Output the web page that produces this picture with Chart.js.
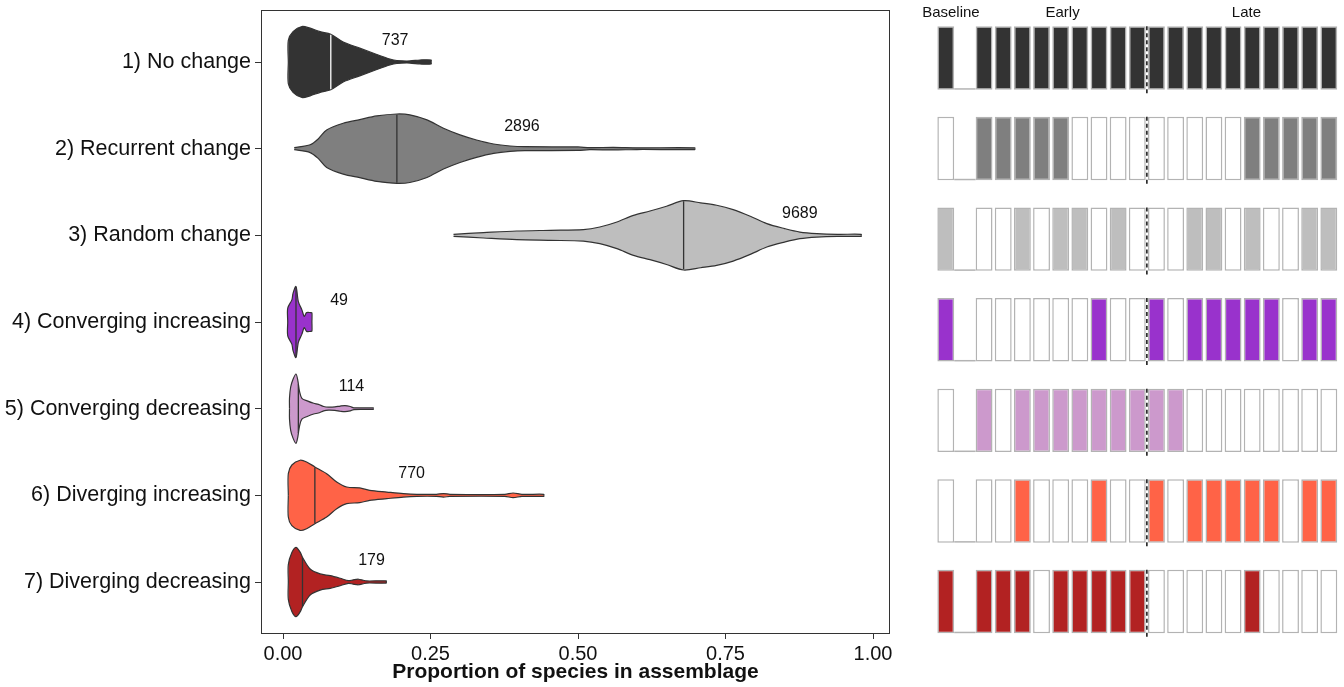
<!DOCTYPE html>
<html>
<head>
<meta charset="utf-8">
<script src="https://cdn.jsdelivr.net/npm/chart.js@4.4.1/dist/chart.umd.min.js"></script>
<style>
  html, body { margin: 0; padding: 0; background: #fff; }
  #wrap { position: relative; width: 1344px; height: 687px; }
  #violin { position: absolute; left: 0; top: 0; }
  #grid { position: absolute; left: 900px; top: 0; }
</style>
</head>
<body>
<div id="wrap">
  <canvas id="violin" width="900" height="687"></canvas>
  <canvas id="grid" width="444" height="687"></canvas>
</div>
<script>
const groups = ['1) No change', '2) Recurrent change', '3) Random change', '4) Converging increasing',
                '5) Converging decreasing', '6) Diverging increasing', '7) Diverging decreasing'];
const counts = [737, 2896, 9689, 49, 114, 770, 179];
const countX = [0.19, 0.405, 0.876, 0.095, 0.116, 0.218, 0.15];
const medians = [0.081, 0.193, 0.679, 0.022, 0.026, 0.054, 0.033];
const colours = ['#333333', '#7f7f7f', '#bebebe', '#9932cc', '#cc99cc', '#ff6347', '#b22222'];
const xTicks = [0, 0.25, 0.5, 0.75, 1];

// violin outlines: proportion of species, half width (in rows)
const noChangeX = [0.009, 0.017, 0.032, 0.046, 0.063, 0.081, 0.102, 0.13, 0.159, 0.181, 0.193, 0.215, 0.232, 0.251];
const noChangeW = [0.25, 0.35, 0.41, 0.39, 0.35, 0.32, 0.23, 0.16, 0.087, 0.035, 0.017, 0.012, 0.023, 0.023];
const recurrentX = [0.019, 0.046, 0.06, 0.074, 0.102, 0.13, 0.159, 0.193, 0.215, 0.244, 0.272, 0.30, 0.328, 0.357, 0.385, 0.41, 0.50, 0.52, 0.56, 0.60, 0.698];
const recurrentW = [0.012, 0.045, 0.115, 0.216, 0.293, 0.335, 0.378, 0.40, 0.39, 0.332, 0.235, 0.159, 0.10, 0.054, 0.031, 0.023, 0.02, 0.012, 0.015, 0.01, 0.01];
const randomX = [0.289, 0.34, 0.396, 0.453, 0.509, 0.537, 0.566, 0.594, 0.622, 0.65, 0.679, 0.708, 0.735, 0.763, 0.792, 0.82, 0.85, 0.876, 0.905, 0.94, 0.98];
const randomW = [0.012, 0.031, 0.05, 0.058, 0.066, 0.096, 0.154, 0.231, 0.281, 0.336, 0.40, 0.374, 0.347, 0.297, 0.22, 0.135, 0.078, 0.038, 0.02, 0.012, 0.012];
const convIncX = [0.008, 0.015, 0.017, 0.022, 0.026, 0.032, 0.036, 0.04, 0.047, 0.049];
const convIncW = [0.16, 0.255, 0.33, 0.41, 0.235, 0.14, 0.065, 0.108, 0.108, 0.105];
const convDecX = [0.011, 0.013, 0.017, 0.022, 0.025, 0.028, 0.032, 0.041, 0.052, 0.06, 0.069, 0.077, 0.088, 0.097, 0.105, 0.114, 0.12, 0.153];
const convDecW = [0.12, 0.25, 0.34, 0.40, 0.33, 0.2, 0.12, 0.09, 0.062, 0.05, 0.025, 0.017, 0.02, 0.03, 0.035, 0.025, 0.01, 0.008];
const divIncX = [0.009, 0.015, 0.029, 0.04, 0.054, 0.074, 0.091, 0.108, 0.13, 0.147, 0.176, 0.204, 0.227, 0.26, 0.272, 0.283, 0.376, 0.39, 0.405, 0.442];
const divIncW = [0.25, 0.35, 0.405, 0.385, 0.328, 0.25, 0.154, 0.096, 0.085, 0.058, 0.038, 0.02, 0.012, 0.012, 0.02, 0.012, 0.012, 0.027, 0.012, 0.012];
const divDecX = [0.009, 0.015, 0.022, 0.029, 0.033, 0.046, 0.063, 0.08, 0.097, 0.111, 0.119, 0.128, 0.136, 0.142, 0.175];
const divDecW = [0.2, 0.34, 0.40, 0.345, 0.286, 0.15, 0.093, 0.073, 0.043, 0.015, 0.025, 0.032, 0.02, 0.012, 0.012];

const violinX = [noChangeX, recurrentX, randomX, convIncX, convDecX, divIncX, divDecX];
const violinW = [noChangeW, recurrentW, randomW, convIncW, convDecW, divIncW, divDecW];

// right panel: which phases show the pattern (1 = filled)
const baselineOn = [1, 0, 1, 1, 0, 0, 1];
const earlyOn = [
  [1, 1, 1, 1, 1, 1, 1, 1, 1],
  [1, 1, 1, 1, 1, 0, 0, 0, 0],
  [0, 0, 1, 0, 1, 1, 0, 1, 0],
  [0, 0, 0, 0, 0, 0, 1, 0, 0],
  [1, 0, 1, 1, 1, 1, 1, 1, 1],
  [0, 0, 1, 0, 0, 0, 1, 0, 0],
  [1, 1, 1, 0, 1, 1, 1, 1, 1]
];
const lateOn = [
  [1, 1, 1, 1, 1, 1, 1, 1, 1, 1],
  [0, 0, 0, 0, 0, 1, 1, 1, 1, 1],
  [0, 0, 1, 1, 0, 1, 0, 0, 1, 1],
  [1, 0, 1, 1, 1, 1, 1, 0, 1, 1],
  [1, 1, 0, 0, 0, 0, 0, 0, 0, 0],
  [1, 0, 1, 1, 1, 1, 1, 0, 1, 1],
  [0, 0, 0, 0, 0, 1, 0, 0, 0, 0]
];

const FONT = "'Liberation Sans', Arial, sans-serif";
Chart.defaults.font.family = FONT;
Chart.defaults.color = '#111';

function halfWidthAt(xs, ws, v) {
  for (let k = 0; k < xs.length - 1; k++) {
    if (v <= xs[k + 1]) {
      const t = (v - xs[k]) / (xs[k + 1] - xs[k]);
      return ws[k] + t * (ws[k + 1] - ws[k]);
    }
  }
  return ws[ws.length - 1];
}

// ---- violins ----
const violinSets = [];
violinX.forEach((xs, i) => {
  const row = i + 1;
  const ws = violinW[i];
  const pts = xs.map((v, k) => ({ v: v, w: ws[k] }));
  if (ws[0] > 0.03) pts.unshift({ v: xs[0], w: 0 });
  pts.push({ v: xs[xs.length - 1], w: 0 });
  violinSets.push({
    data: pts.map(p => ({ x: p.v, y: row - p.w })),
    borderColor: '#333', borderWidth: 1.2, fill: false, order: 1
  });
  violinSets.push({
    data: pts.map(p => ({ x: p.v, y: row + p.w })),
    borderColor: '#333', borderWidth: 1.2, backgroundColor: colours[i], fill: '-1', order: 1
  });
});
medians.forEach((m, i) => {
  const h = halfWidthAt(violinX[i], violinW[i], m) * 0.98;
  violinSets.push({
    data: [{ x: m, y: i + 1 - h }, { x: m, y: i + 1 + h }],
    borderColor: i === 0 ? '#ffffff' : '#333', borderWidth: 1.3, tension: 0, fill: false, order: 0
  });
});

const frameAndCounts = {
  id: 'frameAndCounts',
  afterDatasetsDraw(chart) {
    const { ctx, chartArea: a, scales: { x, y } } = chart;
    ctx.save();
    ctx.strokeStyle = '#333';
    ctx.lineWidth = 1;
    ctx.strokeRect(a.left + 0.5, a.top + 0.5, a.right - a.left - 1, a.bottom - a.top - 1);
    ctx.fillStyle = '#111';
    ctx.font = '16px ' + FONT;
    ctx.textAlign = 'center';
    ctx.textBaseline = 'middle';
    counts.forEach((n, i) => {
      ctx.fillText(String(n), x.getPixelForValue(countX[i]), y.getPixelForValue(i + 1 - 0.25));
    });
    ctx.restore();
  }
};

new Chart(document.getElementById('violin'), {
  type: 'scatter',
  data: { datasets: violinSets },
  options: {
    responsive: false,
    animation: false,
    layout: { padding: { top: 10, right: 10, left: 0, bottom: 0 } },
    elements: { point: { radius: 0, hoverRadius: 0 }, line: { tension: 0.3 } },
    datasets: { scatter: { showLine: true } },
    plugins: { legend: { display: false }, tooltip: { enabled: false } },
    scales: {
      x: {
        type: 'linear', min: -0.0373, max: 1.0288,
        afterBuildTicks: s => { s.ticks = xTicks.map(v => ({ value: v })); },
        afterFit: s => { s.height = 53; s.paddingLeft = 0; s.paddingRight = 0; },
        ticks: { callback: v => Number(v).toFixed(2), font: { size: 20 }, padding: 3, maxRotation: 0, autoSkip: false },
        grid: { drawOnChartArea: false, tickLength: 5, color: '#333' },
        border: { display: false },
        title: {
          display: true, text: 'Proportion of species in assemblage',
          font: { size: 21, weight: 'bold' }, padding: { top: 0, bottom: 2 }
        }
      },
      y: {
        type: 'linear', min: 0.4, max: 7.6, reverse: true,
        afterBuildTicks: s => { s.ticks = groups.map((g, i) => ({ value: i + 1 })); },
        afterFit: s => { s.width = 261; s.paddingTop = 0; s.paddingBottom = 0; },
        ticks: { callback: v => groups[v - 1], font: { size: 21.5 }, padding: 4, autoSkip: false },
        grid: { drawOnChartArea: false, tickLength: 6, color: '#333' },
        border: { display: false }
      }
    }
  },
  plugins: [frameAndCounts]
});

// ---- phase grid ----
const cols = ['B', 'gap'];
for (let k = 1; k <= 9; k++) cols.push('E' + k);
for (let k = 1; k <= 10; k++) cols.push('L' + k);

const gridSets = groups.map((g, i) => {
  const on = [baselineOn[i], 0].concat(earlyOn[i], lateOn[i]);
  return {
    data: cols.map((c, j) => j === 1 ? null : [i + 1 - 0.35, i + 1 + 0.35]),
    backgroundColor: on.map(f => f ? colours[i] : '#ffffff'),
    borderColor: '#b3b3b3',
    borderWidth: 1.5,
    borderSkipped: false,
    grouped: false,
    barPercentage: 0.88,
    categoryPercentage: 1
  };
});

const gridExtras = {
  id: 'gridExtras',
  afterDatasetsDraw(chart) {
    const { ctx, scales: { x, y } } = chart;
    const half = (x.getPixelForValue(1) - x.getPixelForValue(0)) * 0.88 / 2;
    ctx.save();
    ctx.strokeStyle = '#b3b3b3';
    ctx.lineWidth = 1.5;
    groups.forEach((g, i) => {
      const yb = y.getPixelForValue(i + 1 + 0.35) - 0.75;
      ctx.beginPath();
      ctx.moveTo(x.getPixelForValue(0) + half, yb);
      ctx.lineTo(x.getPixelForValue(2) - half, yb);
      ctx.stroke();
    });
    ctx.strokeStyle = '#111';
    ctx.setLineDash([4, 3]);
    const xd = x.getPixelForValue(10.5);
    groups.forEach((g, i) => {
      ctx.beginPath();
      ctx.moveTo(xd, y.getPixelForValue(i + 1 - 0.35));
      ctx.lineTo(xd, y.getPixelForValue(i + 1 + 0.35) + 4);
      ctx.stroke();
    });
    ctx.setLineDash([]);
    ctx.fillStyle = '#111';
    ctx.font = '15px ' + FONT;
    ctx.textAlign = 'center';
    ctx.textBaseline = 'middle';
    const yh = y.getPixelForValue(0.5);
    ctx.fillText('Baseline', x.getPixelForValue(0.27), yh);
    ctx.fillText('Early', x.getPixelForValue(6.1), yh);
    ctx.fillText('Late', x.getPixelForValue(15.7), yh);
    ctx.restore();
  }
};

new Chart(document.getElementById('grid'), {
  type: 'bar',
  data: { labels: cols, datasets: gridSets },
  options: {
    responsive: false,
    animation: false,
    layout: { padding: { left: 36.2, right: 5.6, top: 12.7, bottom: 40.2 } },
    plugins: { legend: { display: false }, tooltip: { enabled: false } },
    scales: {
      x: { type: 'category', display: false, offset: true, grid: { display: false } },
      y: { type: 'linear', min: 0.5, max: 7.5, reverse: true, display: false }
    }
  },
  plugins: [gridExtras]
});
</script>
</body>
</html>
